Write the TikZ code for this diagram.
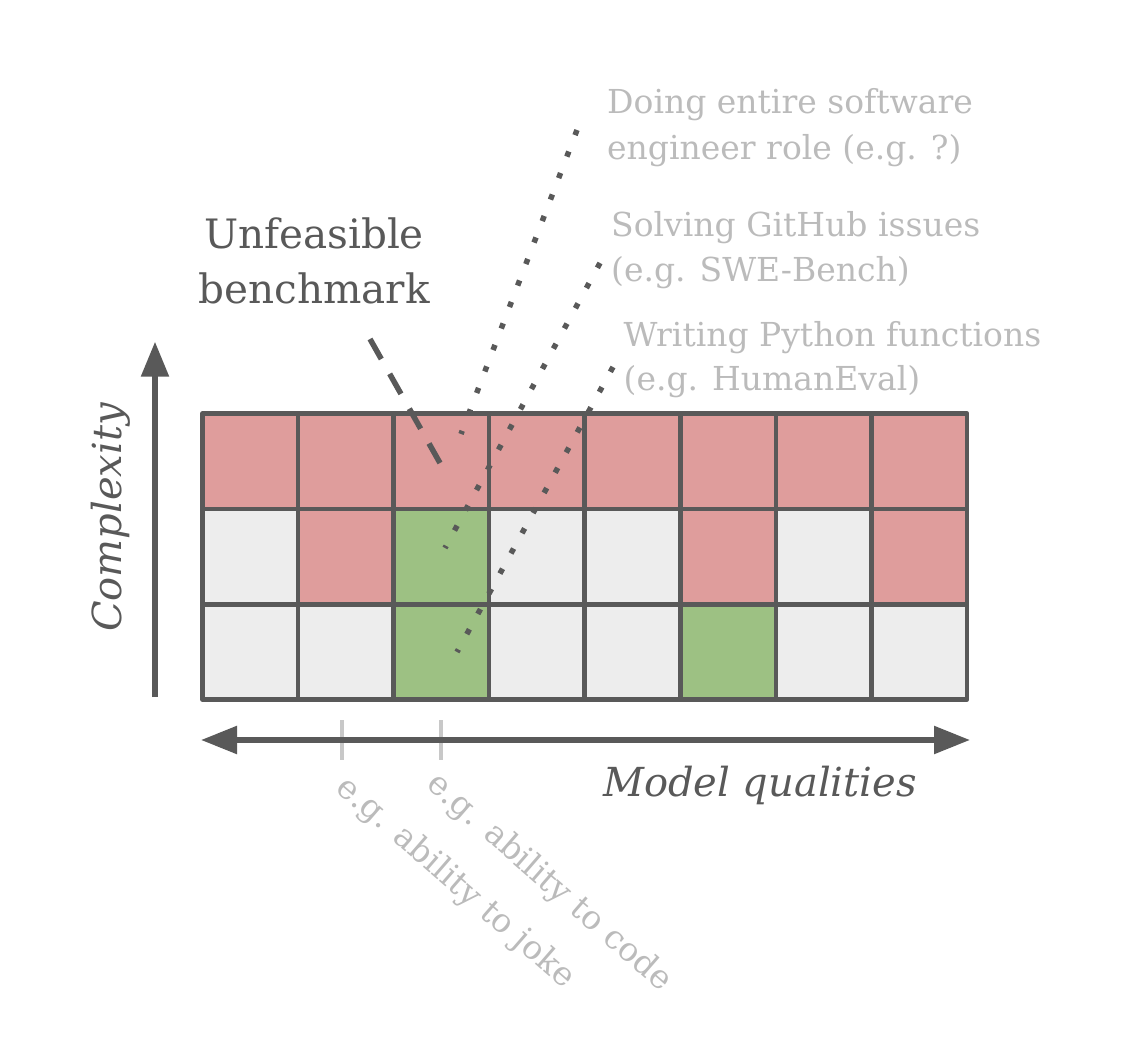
\documentclass[tikz,border=0pt]{standalone}
\usepackage{fontspec}
\setmainfont{DejaVu Serif}
\usetikzlibrary{arrows.meta}
\definecolor{dk}{HTML}{595959}
\definecolor{lbl}{HTML}{BBBBBB}
\definecolor{tickc}{HTML}{C8C8C8}
\definecolor{redc}{HTML}{DF9D9C}
\definecolor{grnc}{HTML}{9DC183}
\definecolor{gryc}{HTML}{EDEDED}
\begin{document}
\begin{tikzpicture}[x=1pt,y=-1pt,
  cell/.style={draw=dk, line width=4.6pt, minimum width=95.6pt, minimum height=95.2pt, inner sep=0pt, anchor=north west, line join=round},
  axisline/.style={draw=dk, line width=5.5pt},
  lab/.style={text=lbl, font=\fontsize{33}{40}\selectfont, inner sep=0pt, anchor=base west},
  dark/.style={text=dk, font=\fontsize{40.5}{48}\selectfont, inner sep=0pt, anchor=base},
  axlab/.style={text=dk, font=\fontsize{40}{46}\selectfont\itshape, inner sep=0pt, anchor=base},
  dotline/.style={draw=dk, line width=5.5pt, dash pattern=on 5.5pt off 17.5pt},
  dashline/.style={draw=dk, line width=5.5pt, dash pattern=on 23pt off 17pt},
  tickline/.style={draw=tickc, line width=4.5pt}
]
\useasboundingbox (0,0) rectangle (1136,1040);

% grid cells
\foreach \c [count=\i] in {redc,redc,redc,redc,redc,redc,redc,redc}
  \node[cell, fill=\c] (ra\i) at ({200+(\i-1)*95.6},411.5) {};
\foreach \c [count=\i] in {gryc,redc,grnc,gryc,gryc,redc,gryc,redc}
  \node[cell, fill=\c] (rb\i) at ({200+(\i-1)*95.6},506.7) {};
\foreach \c [count=\i] in {gryc,gryc,grnc,gryc,gryc,grnc,gryc,gryc}
  \node[cell, fill=\c] (rc\i) at ({200+(\i-1)*95.6},601.9) {};

% axes
\coordinate (vbot) at (155,697);
\coordinate (vtop) at (155,341.7);
\draw[axisline, -{Triangle[length=35pt,width=27pt]}] (vbot) -- (vtop);

\coordinate (t1a) at (342,720); \coordinate (t1b) at (342,760);
\coordinate (t2a) at (441,720); \coordinate (t2b) at (441,760);
\draw[tickline] (t1a) -- (t1b);
\draw[tickline] (t2a) -- (t2b);

\coordinate (hl) at (201,740);
\coordinate (hr) at (970,740);
\draw[axisline, {Triangle[length=36pt,width=27pt]}-{Triangle[length=36pt,width=27pt]}] (hl) -- (hr);

\node[axlab] (mq) at (760,796.7) {Model qualities};
\node[axlab, rotate=90] (cx) at (121.7,517.5) {Complexity};

\node[lab, rotate=-41] (joke) at (334.6,790.1) {e.g. ability to joke};
\node[lab, rotate=-41] (code) at (425,786.8) {e.g. ability to code};

% top labels
\node[dark] (unf1) at (314,248.3) {Unfeasible};
\node[dark] (unf2) at (314,304) {benchmark};

\node[lab] (sw1) at (607,114) {Doing entire software};
\node[lab] (sw2) at (607,160) {engineer role (e.g. ?)};
\node[lab] (gh1) at (611,236.7) {Solving GitHub issues};
\node[lab] (gh2) at (611,281.7) {(e.g. SWE-Bench)};
\node[lab] (py1) at (623.5,346.7) {Writing Python functions};
\node[lab] (py2) at (623.5,391) {(e.g. HumanEval)};

% connectors
\coordinate (dAt) at (577,130);
\coordinate (dAb) at (461,434);
\coordinate (dBt) at (600,263);
\coordinate (dBb) at (445,548);
\coordinate (dCt) at (613,367);
\coordinate (dCb) at (457,652);
\coordinate (dUt) at (370,339);
\coordinate (dUb) at (440,463);
\draw[dotline] (dAt) -- (dAb);
\draw[dotline] (dBt) -- (dBb);
\draw[dotline] (dCt) -- (dCb);
\draw[dashline] (dUt) -- (dUb);
\end{tikzpicture}
\end{document}
